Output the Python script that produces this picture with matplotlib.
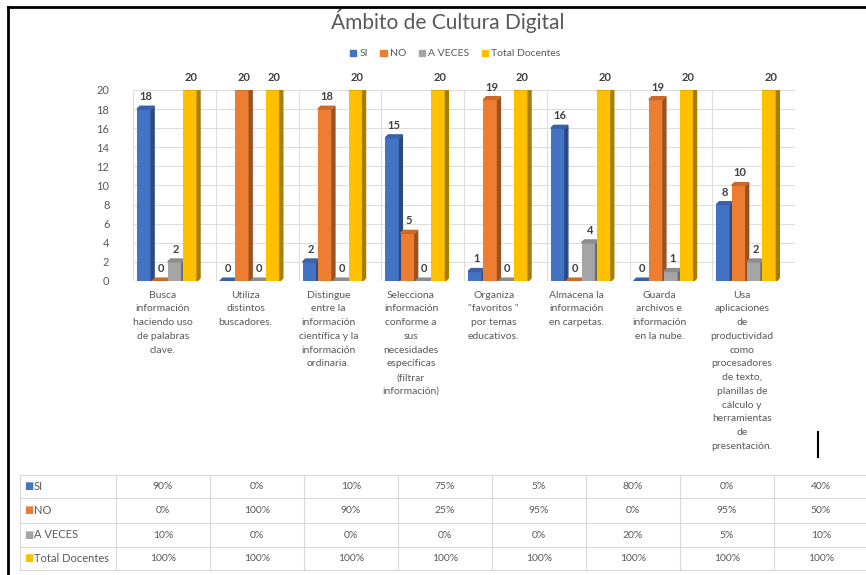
import numpy as np
import matplotlib
matplotlib.use("Agg")
import matplotlib.pyplot as plt
from matplotlib.patches import Patch, Polygon
from matplotlib.lines import Line2D

plt.rcParams['font.family'] = ['Lato', 'DejaVu Sans']

# datos
categorias = [
    "Busca\ninformación\nhaciendo uso\nde palabras\nclave.",
    "Utiliza\ndistintos\nbuscadores.",
    "Distingue\nentre la\ninformación\ncientífica y la\ninformación\nordinaria.",
    "Selecciona\ninformación\nconforme a\nsus\nnecesidades\nespecíficas\n(filtrar\ninformación)",
    "Organiza\n\"favoritos \"\npor temas\neducativos.",
    "Almacena la\ninformación\nen carpetas.",
    "Guarda\narchivos e\ninformación\nen la nube.",
    "Usa\naplicaciones\nde\nproductividad\ncomo\nprocesadores\nde texto,\nplanillas de\ncálculo y\nherramientas\nde\npresentación.",
]
series = ["SI", "NO", "A VECES", "Total Docentes"]
si = [18, 0, 2, 15, 1, 16, 0, 8]
no = [0, 20, 18, 5, 19, 0, 19, 10]
a_veces = [2, 0, 0, 0, 0, 4, 1, 2]
total = [20, 20, 20, 20, 20, 20, 20, 20]

pct_si = ["90%", "0%", "10%", "75%", "5%", "80%", "0%", "40%"]
pct_no = ["0%", "100%", "90%", "25%", "95%", "0%", "95%", "50%"]
pct_av = ["10%", "0%", "0%", "0%", "0%", "20%", "5%", "10%"]
pct_tot = ["100%"] * 8

colores = ["#4472C4", "#ED7D31", "#A5A5A5", "#FFC000"]
gris_txt = "#595959"

W, H = 866, 575
fig = plt.figure(figsize=(W / 100, H / 100), dpi=100)
fig.patch.set_facecolor("white")


def fx(x):
    return x / W


def fy(y):
    return 1 - y / H


# ejes del grafico (pared del fondo)
ax = fig.add_axes([fx(133), fy(281), fx(795) - fx(133), fy(90) - fy(281)])
ax.set_xlim(0, 8)
ax.set_ylim(0, 20)
for s in ax.spines.values():
    s.set_visible(False)
ax.set_yticks(range(0, 21, 2))
ax.set_xticks(range(0, 9))
ax.set_xticklabels([])
ax.tick_params(axis="both", length=0)
ax.tick_params(axis="y", pad=17, labelsize=8, labelcolor=gris_txt)
ax.grid(True, color="#dedede", lw=0.8)
ax.set_axisbelow(True)


def sombra(c, f):
    c = np.array(matplotlib.colors.to_rgb(c))
    return tuple(c * f)


ancho = 0.17
paso = 0.185
dx, dy = 0.035, 0.3
valores = [si, no, a_veces, total]
for k, vals in enumerate(valores):
    for i, v in enumerate(vals):
        x0 = i + 0.05 + k * paso
        ax.bar(x0, v, width=ancho, align="edge", color=colores[k], zorder=3)
        # cara lateral
        ax.add_patch(Polygon([(x0 + ancho, 0), (x0 + ancho + dx, dy),
                              (x0 + ancho + dx, v + dy), (x0 + ancho, v)],
                             closed=True, color=sombra(colores[k], 0.65), zorder=3))
        # cara superior
        ax.add_patch(Polygon([(x0, v), (x0 + ancho, v), (x0 + ancho + dx, v + dy),
                              (x0 + dx, v + dy)],
                             closed=True, color=sombra(colores[k], 0.85), zorder=3))
        ax.annotate(str(v), (x0 + ancho / 2 + dx / 2, v + dy), xytext=(0, 3),
                    textcoords="offset points", ha="center", va="bottom",
                    fontsize=8, fontweight="bold", color="#404040",
                    annotation_clip=False, zorder=4)

# etiquetas de categoria
for i, lab in enumerate(categorias):
    ax.text(i + 0.36, -1.0, lab, ha="center", va="top", fontsize=7.5,
            color=gris_txt, linespacing=1.68, transform=ax.transData)

# titulo y leyenda
fig.text(fx(448), fy(21), "Ámbito de Cultura Digital", ha="center", va="center",
         fontsize=15, color=gris_txt)
handles = [Patch(color=c) for c in colores]
fig.legend(handles, series, loc="center", bbox_to_anchor=(fx(455), fy(54)), ncol=4,
           frameon=False, fontsize=7.5, handlelength=0.6, handleheight=0.6,
           columnspacing=1.2, handletextpad=0.3, labelcolor=gris_txt)

# tabla de porcentajes
filas_y = [475, 498, 523, 547, 570]
col_x = [116 + 94 * i for i in range(9)]
linea = dict(color="#d9d9d9", lw=0.8, transform=fig.transFigure)
for y in filas_y:
    fig.add_artist(Line2D([fx(20), fx(866)], [fy(y), fy(y)], **linea))
for x in [20] + col_x:
    fig.add_artist(Line2D([fx(x), fx(x)], [fy(475), fy(570)], **linea))
tabla = [pct_si, pct_no, pct_av, pct_tot]
for r, fila in enumerate(tabla):
    yc = (filas_y[r] + filas_y[r + 1]) / 2
    fig.text(fx(24), fy(yc), "\u25A0", ha="left", va="center", fontsize=7,
             color=colores[r], family="DejaVu Sans")
    fig.text(fx(34), fy(yc), series[r], ha="left", va="center", fontsize=8,
             color=gris_txt)
    for j, val in enumerate(fila):
        fig.text(fx(col_x[j] + 47), fy(yc), val, ha="center", va="center",
                 fontsize=7.5, color=gris_txt)

# marco negro de la captura y cursor
borde = dict(color="black", lw=2, transform=fig.transFigure)
fig.add_artist(Line2D([fx(8), fx(866)], [fy(7), fy(7)], **borde))
fig.add_artist(Line2D([fx(8), fx(8)], [fy(7), fy(575)], **borde))
fig.add_artist(Line2D([fx(818), fx(818)], [fy(432), fy(457)], color="black", lw=1.5,
                      transform=fig.transFigure))

fig.savefig("out.png", dpi=100)
